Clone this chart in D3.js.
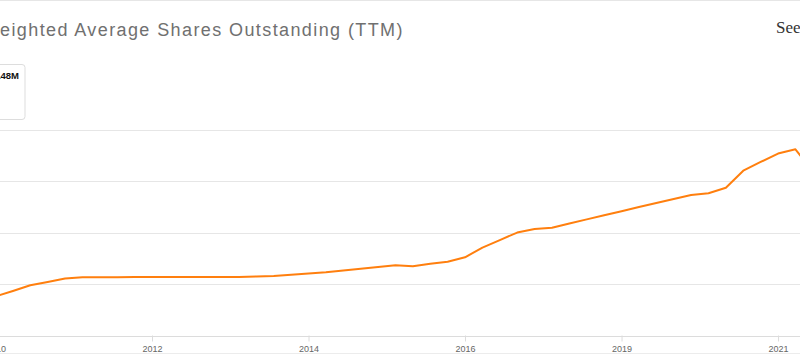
<!DOCTYPE html>
<html>
<head>
<meta charset="utf-8">
<script src="https://cdn.jsdelivr.net/npm/d3@7"></script>
<style>
  html, body { margin: 0; padding: 0; background: #fff; overflow: hidden; }
  svg { display: block; }
</style>
</head>
<body>
<svg id="chart" width="800" height="354"></svg>
<script>
// ---- data (quarterly, millions of shares) ----
const quarters = [];
for (let y = 2010; y <= 2021; y++) for (let q = 1; q <= 4; q++) quarters.push(y + "-Q" + q);

const shares = [
  38.0, 43.3, 48.9, 52.1, 55.5, 56.6, 56.7, 56.8, 56.9, 56.9,
  56.9, 56.9, 56.9, 56.9, 56.9, 57.4, 57.9, 59.2, 60.3, 61.5,
  63.3, 65.0, 66.7, 68.4, 67.3, 69.9, 71.8, 76.1, 85.6, 92.9,
  100.2, 103.6, 104.9, 109.0, 113.0, 117.0, 121.0, 125.0, 129.0, 132.9,
  136.7, 138.4, 143.8, 160.4, 168.9, 177.1, 181.2, 160.0
];

const tickLabels = ["2010", "2012", "2014", "2016", "2019", "2021"];
const tickEvery = 9;
const yTicks = [0, 50, 100, 150, 200];

const titleText = "Weighted Average Shares Outstanding (TTM)";
const legendText = "Shares: 148M";
const linkText = "See more";

// ---- layout ----
const svg = d3.select("#chart");
const W = 800, H = 354;

const x = d3.scalePoint()
  .domain(quarters)
  .range([-4.5, -4.5 + 17.39 * (quarters.length - 1)]);

const y = d3.scaleLinear().domain([0, 200]).range([335.5, 130]);

// frame lines
svg.append("line").attr("x1", 0).attr("x2", W).attr("y1", 0.5).attr("y2", 0.5)
  .attr("stroke", "#e6e6e6");
svg.append("line").attr("x1", 0).attr("x2", W).attr("y1", 353.5).attr("y2", 353.5)
  .attr("stroke", "#ececec");

// title: first char clipped off the left edge
const title = svg.append("text")
  .attr("y", 36)
  .attr("font-family", "Liberation Sans, Arial, sans-serif")
  .attr("font-size", 18)
  .attr("letter-spacing", "1.4px")
  .attr("fill", "#707070")
  .text(titleText);
const off = title.node().getStartPositionOfChar(1).x;
title.attr("x", -off);

svg.append("text")
  .attr("x", 776).attr("y", 33)
  .attr("font-family", "Liberation Serif, serif")
  .attr("font-size", 17)
  .attr("fill", "#333")
  .text(linkText);

// legend box
svg.append("rect")
  .attr("x", -10).attr("y", 64.5).attr("width", 35).attr("height", 55)
  .attr("rx", 3)
  .attr("fill", "#fff").attr("stroke", "#dddddd");
svg.append("text")
  .attr("x", 19).attr("y", 79)
  .attr("text-anchor", "end")
  .attr("font-family", "Liberation Sans, Arial, sans-serif")
  .attr("font-size", 9.5).attr("font-weight", "bold")
  .attr("fill", "#111")
  .text(legendText);

// gridlines
svg.append("g").selectAll("line").data(yTicks).join("line")
  .attr("x1", 0).attr("x2", W)
  .attr("y1", d => Math.round(y(d)) + 0.5).attr("y2", d => Math.round(y(d)) + 0.5)
  .attr("stroke", d => d === 0 ? "#dcdcdc" : "#e6e6e6");

// x axis
const tickCats = quarters.filter((q, i) => i % tickEvery === 0).slice(0, tickLabels.length);
const xAxis = d3.axisBottom(x)
  .tickValues(tickCats)
  .tickFormat((d, i) => tickLabels[i])
  .tickSize(6).tickPadding(4);
const gx = svg.append("g").attr("transform", "translate(0,335.5)").call(xAxis);
gx.select(".domain").remove();
gx.selectAll(".tick line").attr("stroke", "#dcdcdc");
gx.selectAll(".tick text")
  .attr("font-family", "Liberation Sans, Arial, sans-serif")
  .attr("font-size", 9).attr("fill", "#666");

// line
const line = d3.line()
  .x((d, i) => x(quarters[i]))
  .y(d => y(d));
svg.append("path")
  .datum(shares)
  .attr("d", line)
  .attr("fill", "none")
  .attr("stroke", "#ff7f0e")
  .attr("stroke-width", 2)
  .attr("stroke-linejoin", "round");
</script>
</body>
</html>
